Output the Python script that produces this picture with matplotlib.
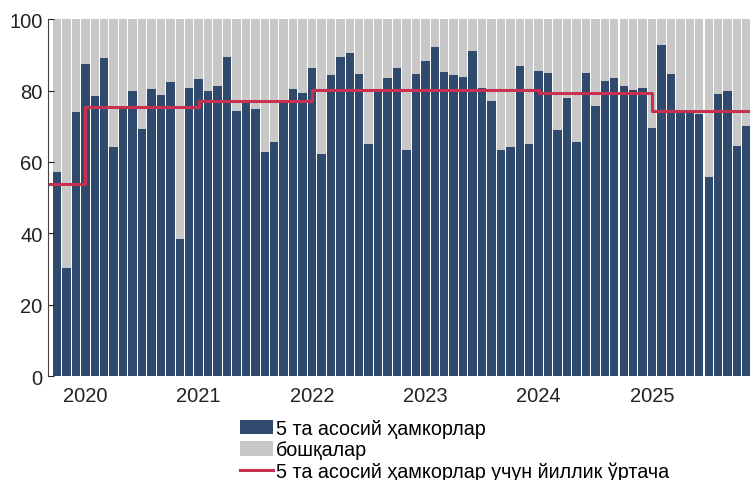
import matplotlib
matplotlib.use("Agg")
import matplotlib.pyplot as plt
import numpy as np
import pandas as pd

plt.rcParams['font.family'] = ['Liberation Sans', 'DejaVu Sans']

# monthly share of the 5 main partners, Oct 2019 .. Nov 2025
months = pd.period_range("2019-10", "2025-11", freq="M")
top5 = [
    57.1, 30.4, 74.1,
    87.5, 78.5, 89.1, 64.2, 75.5, 79.9, 69.3, 80.4, 78.9, 82.4, 38.4, 80.8,
    83.2, 79.8, 81.2, 89.3, 74.3, 77.1, 74.8, 62.9, 65.7, 77.1, 80.4, 79.2,
    86.3, 62.3, 84.3, 89.4, 90.5, 84.7, 65.1, 80.0, 83.4, 86.4, 63.3, 84.7,
    88.4, 92.1, 85.2, 84.5, 83.7, 91.2, 80.8, 77.0, 63.3, 64.1, 87.0, 65.1,
    85.4, 85.0, 68.9, 78.0, 65.5, 84.9, 75.6, 82.6, 83.6, 81.3, 80.3, 80.6,
    69.6, 92.7, 84.7, 74.2, 73.8, 73.4, 55.7, 79.1, 79.9, 64.5, 70.2,
]
labels = ["5 та асосий ҳамкорлар", "бошқалар",
          "5 та асосий ҳамкорлар учун йиллик ўртача"]

df = pd.DataFrame({"top5": top5}, index=months)
df["other"] = 100 - df["top5"]
df["avg"] = df.groupby(df.index.year)["top5"].transform("mean")

c_blue = "#304a6e"
c_grey = "#c8c8c8"
c_red = "#c8304f"

fig = plt.figure(figsize=(7.5, 4.81), dpi=100)
ax = fig.add_axes([0.064, 0.216, 0.936, 0.742])

x = np.arange(len(df))
b1 = ax.bar(x, df["top5"], width=0.89, color=c_blue, label=labels[0])
b2 = ax.bar(x, df["other"], bottom=df["top5"], width=0.89, color=c_grey, label=labels[1])

xmin, xmax = -0.95, len(df) - 0.63
xl = np.concatenate([[xmin], x, [xmax]])
yl = np.concatenate([[df["avg"].iloc[0]], df["avg"].values, [df["avg"].iloc[-1]]])
ln, = ax.plot(xl, yl, drawstyle="steps-post", color=c_red, lw=2.2, label=labels[2])

ax.set_xlim(xmin, xmax)
ax.set_ylim(0, 100)
ax.set_yticks([0, 20, 40, 60, 80, 100])
jan = [i for i, p in enumerate(months) if p.month == 1]
ax.set_xticks(jan)
ax.set_xticklabels([str(months[i].year) for i in jan])
ax.tick_params(axis="x", length=0, labelsize=14.5, pad=7, colors="#222222")
ax.tick_params(axis="y", direction="in", length=4, labelsize=14.5, pad=4, colors="#222222")
for s in ["top", "right", "bottom"]:
    ax.spines[s].set_visible(False)
ax.spines["left"].set_color("#444444")

fig.legend(handles=[b1, b2, ln], loc="upper left", bbox_to_anchor=(0.32, 0.127),
           frameon=False, fontsize=14.2, handlelength=1.65, handleheight=0.75,
           handletextpad=0.15, labelspacing=0.12, borderpad=0, borderaxespad=0)

fig.savefig("out.png", dpi=100)
